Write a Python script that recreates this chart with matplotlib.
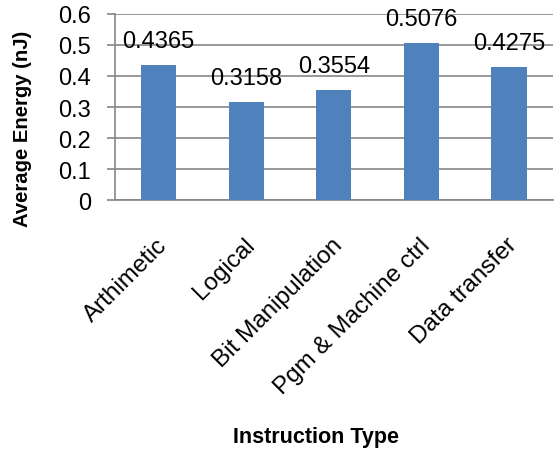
import matplotlib.pyplot as plt
import matplotlib.transforms as mtransforms
import numpy as np

# Chart data
categories = ['Arthimetic', 'Logical', 'Bit Manipulation', 'Pgm & Machine ctrl', 'Data transfer']
energy = [0.4365, 0.3158, 0.3554, 0.5076, 0.4275]
labels = ['0.4365', '0.3158', '0.3554', '0.5076', '0.4275']
y_ticks = [0, 0.1, 0.2, 0.3, 0.4, 0.5, 0.6]
y_tick_labels = ['0', '0.1', '0.2', '0.3', '0.4', '0.5', '0.6']

plt.rcParams['font.family'] = ['Liberation Sans', 'DejaVu Sans']

fig = plt.figure(figsize=(5.55, 4.52), dpi=100)
ax = fig.add_axes([0.207, 0.555, 0.789, 0.412])

x = np.arange(len(categories))
ax.bar(x, energy, width=0.4, color='#4F81BD', zorder=3)

# value labels above each bar
for xi, v, lab in zip(x, energy, labels):
    ax.annotate(lab, (xi, v), xytext=(0, 13), textcoords='offset points',
                ha='center', va='baseline', fontsize=17, zorder=4)

ax.set_xlim(-0.5, len(categories) - 0.5)
ax.set_ylim(0, 0.6)
ax.set_yticks(y_ticks)
ax.set_yticklabels(y_tick_labels, fontsize=17)
ax.yaxis.grid(True, color='#868686', linewidth=1.2, zorder=0)
ax.tick_params(axis='y', length=6, width=1.2, color='#868686', pad=11)

ax.set_xticks(x)
ax.set_xticklabels(categories, rotation=45, ha='right', rotation_mode='anchor', fontsize=17.5)
ax.tick_params(axis='x', length=0, pad=24)
shift = mtransforms.ScaledTranslation(-2 / 72, 0, fig.dpi_scale_trans)
for t in ax.get_xticklabels():
    t.set_transform(t.get_transform() + shift)

for side in ['top', 'right']:
    ax.spines[side].set_visible(False)
for side in ['left', 'bottom']:
    ax.spines[side].set_color('#868686')
    ax.spines[side].set_linewidth(1.2)

ax.set_ylabel('Average Energy (nJ)', fontsize=14.6, fontweight='bold')
ax.yaxis.set_label_coords(-0.19, 0.39)
fig.text(0.569, 0.031, 'Instruction Type', fontsize=15.5, fontweight='bold', ha='center', va='center')

plt.savefig('out.png', dpi=100)
